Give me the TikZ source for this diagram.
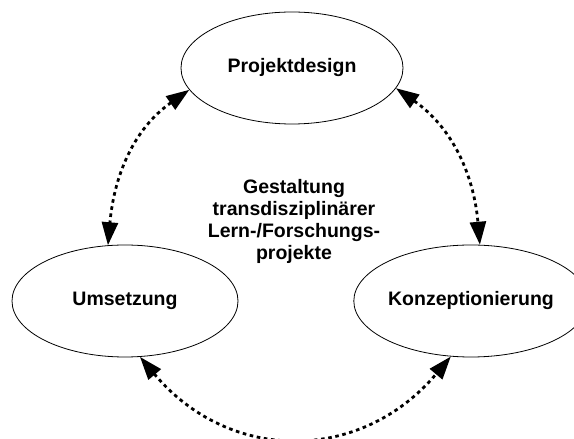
\documentclass[tikz,border=0pt]{standalone}
\usepackage{fontspec}
\setmainfont{Liberation Sans}
\usetikzlibrary{shapes.geometric,arrows.meta}
\begin{document}
\begin{tikzpicture}[x=1pt,y=1pt,line join=round,
 phase/.style={draw,ellipse,line width=0.8pt,inner sep=0pt,minimum width=226pt,minimum height=112pt,font=\fontsize{19.5}{22}\selectfont\bfseries},
 link/.style={{Triangle[length=23pt,width=16pt]}-{Triangle[length=23pt,width=16pt]},line width=2.8pt,line cap=butt,dash pattern=on 3.6pt off 3.6pt}]
 \useasboundingbox (0,0) rectangle (574,439);
 \node[phase,minimum width=222pt] (design) at (292,371) {Projektdesign};
 \node[phase] (build) at (125,138) {Umsetzung};
 \node[phase] (concept) at (471,138) {Konzeptionierung};
 \node[align=center,font=\fontsize{19.5}{22}\selectfont\bfseries] (topic) at (294,218)
  {Gestaltung\\transdisziplinärer\\Lern-/Forschungs-\\projekte};
 \draw[link] (design.192) to[out=215,in=85] (build.107);
 \draw[link] (design.349) to[out=325,in=95] (concept.81);
 \draw[link] (build.285) to[out=-50,in=230,looseness=1.15] (concept.250);
\end{tikzpicture}
\end{document}
